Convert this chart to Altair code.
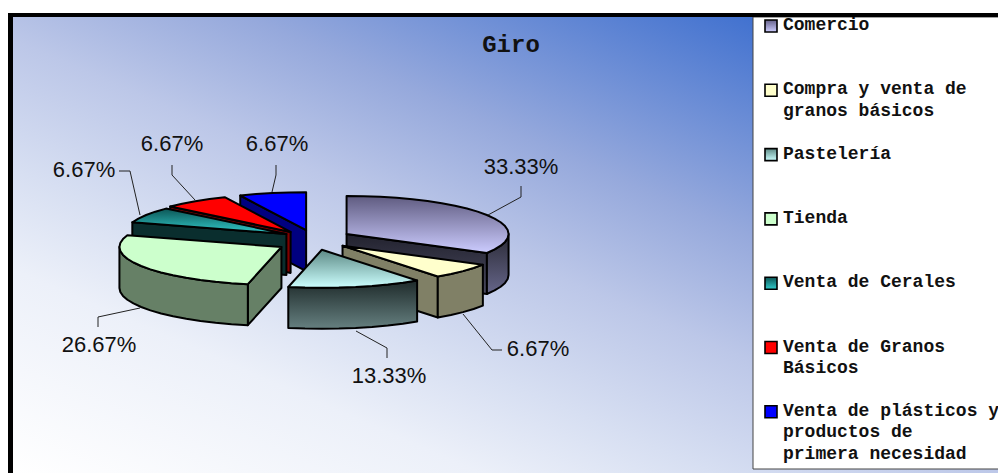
import math
import altair as alt

# Survey shares by line of business
categories = ["Comercio", "Compra y venta de granos básicos", "Pastelería", "Tienda",
              "Venta de Cerales", "Venta de Granos Básicos",
              "Venta de plásticos y productos de primera necesidad"]
shares = [33.33, 6.67, 13.33, 26.67, 6.67, 6.67, 6.67]
legend_lines = [["Comercio"], ["Compra y venta de", "granos básicos"], ["Pastelería"], ["Tienda"],
                ["Venta de Cerales"], ["Venta de Granos", "Básicos"],
                ["Venta de plásticos y", "productos de", "primera necesidad"]]


def vgrad(top, bottom):
    return {"gradient": "linear", "x1": 0, "y1": 0, "x2": 0, "y2": 1,
            "stops": [{"offset": 0, "color": top}, {"offset": 1, "color": bottom}]}


# Face colours of each slice: top, outer wall, cut plane
top_fill = [vgrad("#5f5b80", "#ccccff"), "#ffffcc", vgrad("#5d8a85", "#ccffff"), "#ccffcc",
            vgrad("#0c5555", "#33cccc"), "#ff0000", "#0000ff"]
wall_fill = [vgrad("#2a2a35", "#66668a"), "#808066", vgrad("#1e2a2a", "#668080"), "#668066",
             "#0a2e2e", "#800000", "#000080"]
plane_fill = [vgrad("#22222e", "#4a4a60"), "#808066", "#668080", "#668066",
              "#0a2e2e", "#800000", "#000080"]
swatch_fill = [vgrad("#66628a", "#ccccff"), "#ffffcc", vgrad("#5d8a85", "#ccffff"), "#ccffcc",
               vgrad("#0c5555", "#33cccc"), "#ff0000", "#0000ff"]

# Pie projection: centre, ellipse radii, thickness, explosion radii and per-slice nudge
CX, CY, RX, RY, DEPTH, EX, EY = 316, 240, 162, 38, 41, 33, 10
nudge = [(2, -1), (2, -1), (-1, 0), (-6, 2), (-1, -1), (-6, 0), (-3, 0)]
ARC_STEP = 6

# Percent labels (centre) and their elbowed leaders
label_at = [(521, 167), (538, 349), (389, 376), (99, 345), (84, 170), (172, 144), (277, 144)]
leaders = [[(521, 186), (521, 197), (488, 215)], [(502, 350), (492, 350), (463, 314)],
           [(387, 358), (387, 348), (356, 331)], [(98, 327), (98, 317), (140, 308)],
           [(119, 171), (130, 171), (140, 215)], [(172, 165), (172, 175), (195, 200)],
           [(276, 165), (276, 175), (272, 192)]]

# Diagonal background wash, light at lower left and deep blue at upper right
wash_stops = [(0.0, "#ffffff"), (0.23, "#ecf0f9"), (0.344, "#d7dff2"), (0.49, "#bcc7e8"),
              (0.63, "#96a9dc"), (0.886, "#3f70cf"), (1.0, "#2f62c8")]

WIDTH, HEIGHT = 998, 473
pixel_x = alt.Scale(domain=[0, WIDTH], range=[0, WIDTH])
pixel_y = alt.Scale(domain=[0, HEIGHT], range=[0, HEIGHT])


def blank():
    return alt.Chart(alt.Data(values=[{"k": 0}]))


def box(fill, x, x2, y, y2, **kw):
    return blank().mark_rect(fill=fill, **kw).encode(
        x=alt.value(x), x2=alt.value(x2), y=alt.value(y), y2=alt.value(y2))


def rim(ax, ay, deg, drop=0):
    t = math.radians(deg)
    return [ax + RX * math.sin(t), ay - RY * math.cos(t) + drop]


def arc(ax, ay, a, b, drop=0):
    n = max(1, round(abs(b - a) / ARC_STEP))
    return [rim(ax, ay, a + (b - a) * i / n, drop) for i in range(n + 1)]


def face(ring, fill):
    feature = {"type": "Feature", "properties": {},
               "geometry": {"type": "Polygon", "coordinates": [ring + [ring[0]]]}}
    return (alt.Chart(alt.Data(values=[feature]))
            .mark_geoshape(fill=fill, stroke="#000000", strokeWidth=2, strokeJoin="round")
            .project(type="identity", scale=1, translate=[0, 0]))


def slice_faces(i, start, end):
    mid = math.radians((start + end) / 2)
    ax = CX + EX * math.sin(mid) + nudge[i][0]
    ay = CY - EY * math.cos(mid) + nudge[i][1]
    out = []
    # cut planes that turn towards the viewer
    for deg, visible in ((start, math.sin(math.radians(start)) < -1e-6),
                         (end, math.sin(math.radians(end)) > 1e-6)):
        if visible:
            p = rim(ax, ay, deg)
            out.append(face([[ax, ay], p, [p[0], p[1] + DEPTH], [ax, ay + DEPTH]], plane_fill[i]))
    # outer wall for the part of the arc in front
    a, b = max(start, 90), min(end, 270)
    if a < b:
        out.append(face(arc(ax, ay, a, b) + arc(ax, ay, b, a, DEPTH), wall_fill[i]))
    out.append(face([[ax, ay]] + arc(ax, ay, start, end), top_fill[i]))
    return out


total = sum(shares)
angles = []
acc = 0
for v in shares:
    angles.append((acc / total * 360, (acc + v) / total * 360))
    acc += v

layers = [
    box({"gradient": "linear", "x1": 0, "y1": 1, "x2": 0.968, "y2": -0.03,
         "stops": [{"offset": o, "color": c} for o, c in wash_stops]},
        13, 998, 17, 473),
]

# Back slices first so the nearer ones paint over them
for i in [6, 5, 4, 3, 0, 1, 2]:
    layers += slice_faces(i, *angles[i])

leader_rows = [{"s": i, "n": n, "x": p[0], "y": p[1]}
               for i, pts in enumerate(leaders) for n, p in enumerate(pts)]
layers.append(alt.Chart(alt.Data(values=leader_rows)).mark_line(color="#222222", strokeWidth=1).encode(
    x=alt.X("x:Q", scale=pixel_x, axis=None), y=alt.Y("y:Q", scale=pixel_y, axis=None),
    detail="s:N", order="n:Q"))

label_rows = [{"t": f"{v:.2f}%", "x": p[0], "y": p[1]} for v, p in zip(shares, label_at)]
layers.append(alt.Chart(alt.Data(values=label_rows)).mark_text(
    font="Liberation Sans", fontSize=22, color="#111111", align="center", baseline="middle").encode(
    x=alt.X("x:Q", scale=pixel_x, axis=None), y=alt.Y("y:Q", scale=pixel_y, axis=None), text="t:N"))

layers.append(blank().mark_text(
    text="Giro", font="Liberation Mono", fontWeight="bold", fontSize=24, color="#111111",
    align="center", baseline="middle").encode(x=alt.value(511), y=alt.value(45)))

# Legend panel and frame
layers.append(box("#ffffff", 753, 1000, 17, 469, stroke="#444444", strokeWidth=1))
layers.append(box("#000000", 8, 13, 13, 473))
layers.append(box("#000000", 8, 998, 13, 17))

LEGEND_Y0, LEGEND_DY, LINE_DY = 26, 64.3, 21.5
legend_rows = []
for i, lines in enumerate(legend_lines):
    y = LEGEND_Y0 + LEGEND_DY * i
    layers.append(box(swatch_fill[i], 765, 777, y - 6, y + 6, stroke="#000000", strokeWidth=1.6))
    for j, line in enumerate(lines):
        legend_rows.append({"t": line, "x": 783, "y": y - 1 + LINE_DY * j})
layers.append(alt.Chart(alt.Data(values=legend_rows)).mark_text(
    font="Liberation Mono", fontWeight="bold", fontSize=18, color="#111111",
    align="left", baseline="middle").encode(
    x=alt.X("x:Q", scale=pixel_x, axis=None), y=alt.Y("y:Q", scale=pixel_y, axis=None), text="t:N"))

chart = (alt.layer(*layers)
         .properties(width=WIDTH, height=HEIGHT, padding=0, autosize=alt.AutoSizeParams(type="none"))
         .configure_view(stroke=None))
chart.save("out.html", embed_options={"renderer": "svg", "actions": False})
